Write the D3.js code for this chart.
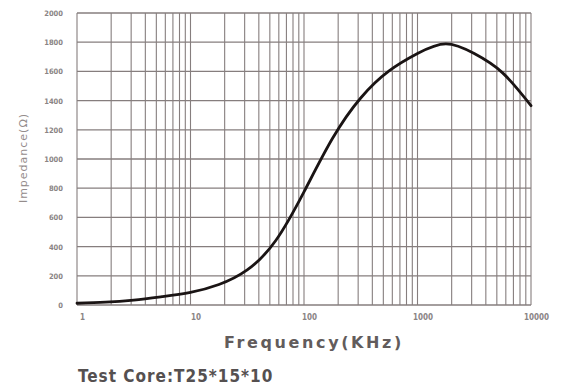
<!DOCTYPE html>
<html>
<head>
<meta charset="utf-8">
<script src="https://cdn.jsdelivr.net/npm/d3@7/dist/d3.min.js"></script>
<style>
  html, body { margin: 0; padding: 0; background: #fff; }
  svg { display: block; }
</style>
</head>
<body>
<svg id="chart" width="569" height="390"></svg>
<script>
// Impedance vs. frequency for the T25*15*10 test core (quarter-decade samples)
const frequencyKHz = [1, 1.78, 3.16, 5.62, 10, 17.8, 31.6, 56.2, 100, 178, 316, 562, 1000, 1778, 3162, 5623, 10000];
const impedanceOhm = [12, 19, 34, 57, 86, 140, 240, 440, 775, 1140, 1418, 1603, 1722, 1788, 1722, 1590, 1365];
const xTickValues = [1, 10, 100, 1000, 10000];
const xTickLabels = ["1", "10", "100", "1000", "10000"];
const yTickValues = [0, 200, 400, 600, 800, 1000, 1200, 1400, 1600, 1800, 2000];
const yTickLabels = ["0", "200", "400", "600", "800", "1000", "1200", "1400", "1600", "1800", "2000"];

const svg = d3.select("#chart");
const plot = { left: 77, right: 531, top: 13, bottom: 305 };

const x = d3.scaleLog().domain([1, 10000]).range([plot.left, plot.right]);
const y = d3.scaleLinear().domain([0, 2000]).range([plot.bottom, plot.top]);

const gridColor = "#867e7e";

// minor + major vertical grid lines (log decades)
const vLines = [];
for (let d = 1; d < 10000; d *= 10) {
  for (let m = 1; m <= 9; m++) vLines.push(d * m);
}
vLines.push(10000);

const grid = svg.append("g");
grid.selectAll("line.v").data(vLines).join("line")
  .attr("x1", d => x(d)).attr("x2", d => x(d))
  .attr("y1", plot.top).attr("y2", plot.bottom)
  .attr("stroke", gridColor).attr("stroke-width", 1.1);

grid.selectAll("line.h").data(yTickValues).join("line")
  .attr("x1", plot.left).attr("x2", plot.right)
  .attr("y1", d => y(d)).attr("y2", d => y(d))
  .attr("stroke", gridColor).attr("stroke-width", 1.3);

// axes (labels only; grid draws the lines)
const xAxis = d3.axisBottom(x).tickValues(xTickValues)
  .tickFormat((d, i) => xTickLabels[i]).tickSize(0).tickPadding(9);
svg.append("g").attr("transform", `translate(0,${plot.bottom})`).call(xAxis)
  .call(g => g.select(".domain").remove())
  .selectAll("text")
  .attr("dx", 5)
  .attr("font-family", "DejaVu Sans Condensed, DejaVu Sans, sans-serif")
  .attr("font-weight", "bold").attr("font-size", 8).attr("fill", "#8a8484");

const yAxis = d3.axisLeft(y).tickValues(yTickValues)
  .tickFormat((d, i) => yTickLabels[i]).tickSize(0).tickPadding(14);
svg.append("g").attr("transform", `translate(${plot.left},0)`).call(yAxis)
  .call(g => g.select(".domain").remove())
  .selectAll("text")
  .attr("font-family", "DejaVu Sans Condensed, DejaVu Sans, sans-serif")
  .attr("font-weight", "bold").attr("font-size", 7.5).attr("fill", "#8a8484");

// impedance curve (smooth natural spline through the samples)
const line = d3.line()
  .x((d, i) => x(frequencyKHz[i]))
  .y(d => y(d))
  .curve(d3.curveNatural);

svg.append("path")
  .datum(impedanceOhm)
  .attr("d", line)
  .attr("fill", "none")
  .attr("stroke", "#1a1414")
  .attr("stroke-width", 2.8)
  .attr("stroke-linecap", "round");

// axis titles
svg.append("text")
  .attr("x", 314).attr("y", 348)
  .attr("text-anchor", "middle")
  .attr("font-family", "DejaVu Sans, sans-serif")
  .attr("font-weight", "bold").attr("font-size", 16)
  .attr("letter-spacing", 2.6)
  .attr("fill", "#625c5c")
  .text("Frequency(KHz)");

svg.append("text")
  .attr("transform", "translate(27,158) rotate(-90)")
  .attr("text-anchor", "middle")
  .attr("font-family", "DejaVu Sans, sans-serif")
  .attr("font-size", 11)
  .attr("letter-spacing", 1)
  .attr("fill", "#948c8c")
  .text("Impedance(Ω)");

svg.append("text")
  .attr("x", 78).attr("y", 382)
  .attr("font-family", "DejaVu Sans Condensed, DejaVu Sans, sans-serif")
  .attr("font-weight", "bold").attr("font-size", 17)
  .attr("letter-spacing", 1)
  .attr("fill", "#555050")
  .text("Test Core:T25*15*10");
</script>
</body>
</html>
